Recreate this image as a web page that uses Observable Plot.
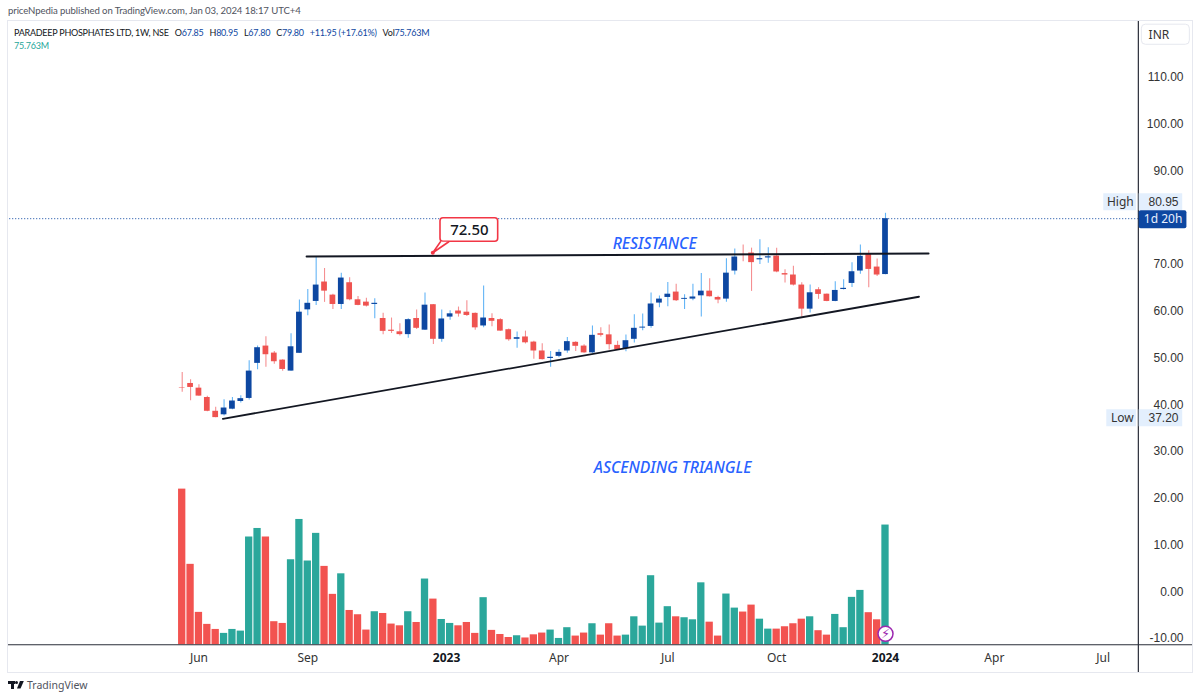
<!DOCTYPE html>
<html>
<head>
<meta charset="utf-8">
<script src="https://cdn.jsdelivr.net/npm/d3@7"></script>
<script src="https://cdn.jsdelivr.net/npm/@observablehq/plot@0.6"></script>
<style>
  html, body { margin: 0; padding: 0; background: #fff; width: 1200px; height: 699px; overflow: hidden; }
  body { font-family: Lato, sans-serif; color: #131722; position: relative; }
  #pub { height: 21px; line-height: 22px; padding-left: 8px; font-size: 9.6px; letter-spacing: -0.1px; color: #50535e; box-sizing: border-box; white-space: nowrap; }
  #wrap { position: relative; margin-left: 8px; width: 1184px; height: 651px; }
  #wrap svg { display: block; outline: 1px solid #e6e8ef; }
  #legend { position: absolute; left: 6px; top: 5px; font-size: 9px; letter-spacing: -0.25px; line-height: 13px; color: #131722; white-space: nowrap; }
  #legend b { font-weight: 400; color: #0d47a1; }
  #legend .gap { margin-left: 4px; }
  #legend .vol { color: #26a69a; }
  #foot { position: absolute; left: 8px; top: 678px; height: 14px; display: flex; align-items: center; font-size: 10.5px; color: #50535e; font-family: "Noto Sans", sans-serif; }
  #logo { position: relative; width: 16px; height: 9px; margin-right: 3px; }
  #logo i { position: absolute; background: #131722; display: block; }
</style>
</head>
<body>
<div id="pub">priceNpedia published on TradingView.com, Jan 03, 2024 18:17 UTC+4</div>
<div id="wrap">
  <div id="legend">
    <div>PARADEEP PHOSPHATES LTD, 1W, NSE <span class="gap">O<b>67.85</b></span> <span class="gap">H<b>80.95</b></span> <span class="gap">L<b>67.80</b></span> <span class="gap">C<b>79.80</b></span> <span class="gap"><b>+11.95 (+17.61%)</b></span> <span class="gap">Vol<b>75.763M</b></span></div>
    <div class="vol">75.763M</div>
  </div>
</div>
<div id="foot">
  <div id="logo">
    <i style="left:0;top:0;width:7px;height:3px"></i>
    <i style="left:3px;top:0;width:3px;height:8px"></i>
    <i style="left:7px;top:0;width:3px;height:3px;border-radius:50%"></i>
    <i style="left:9px;top:0;width:7px;height:8px;clip-path:polygon(45% 0,100% 0,50% 100%,0 100%)"></i>
  </div>
  <span>TradingView</span>
</div>
<script>
// ---- data ----
const startWeek = "2022-05-23";
const opens = [43.65,44.55,43.55,41.55,38.6,37.85,39.05,40.7,41.35,48.85,
  52.55,51.05,49.55,47.2,51,60.3,62.1,66.25,63.45,61.45,
  66.1,62.45,61.95,61.45,58.45,55.95,55.6,55,58.45,55.95,
  61.4,54,58.75,60.05,59.8,59.55,56.85,58.45,58.2,56.05,
  54,54.5,53.4,51.5,49.9,50.35,51.5,53.35,52.55,51.1,
  55.2,54.95,52.7,52,54,56.4,56.75,61.75,62.95,64.1,
  62.55,62.6,63.3,64.3,62.95,62.6,68.6,72.15,72.45,71,
  71.4,71.8,68.05,67.75,65.6,60.45,64.6,63.65,62.1,64.65,
  65.95,68.6,72.3,69.45,67.85];
const highs = [46.9,45.35,44.3,41.8,39.45,41.05,41.55,41.95,49.4,52.55,
  54.55,51.4,49.65,55.2,62.4,64.65,71.5,69.15,63.65,68.15,
  67.15,63.15,62.8,62.65,59.55,58.55,57.35,58.4,60.25,63.9,
  61.45,60.25,60.1,60.9,62.25,59.6,65.4,59.45,58.4,56.2,
  55.55,55.75,53.6,53.05,51.4,51.75,54.4,53.5,52.85,56.85,
  56.45,57.05,53.6,54.9,59.25,59.4,63.9,63.25,66.15,65.8,
  63.55,65.8,68.05,66.95,63.2,71.25,73.3,74.15,73.5,75.3,
  73.6,73.5,68.9,69.65,66.1,65.6,65.05,63.7,66.3,66.75,
  70.4,74.15,72.95,71.15,80.95];
const lows = [42.65,40.85,41.8,38.5,37.2,37.6,38.95,40.35,41,47.5,
  48,48.65,47.15,47.15,51,59.05,61.25,61.9,60.4,60.4,
  62.25,61.2,60.9,58.4,55,55.25,54.7,54.2,56.1,55.9,
  52.9,53.35,58.1,58.75,58.9,55.95,56.45,56.7,55.7,53.6,
  52.1,53,49.75,49.55,48,50.05,51,51.4,51,51,
  54.5,51.7,51.7,51.35,53.2,55.85,56.35,60.75,60.95,62.1,
  60.4,62.25,58.75,63.05,61.6,61.9,67.75,70.6,64.25,70,
  70.25,68.25,66.05,65.4,58.75,59.6,62.55,62.05,62.05,64.55,
  65.1,67.9,65.05,67.45,67.8];
const closes = [43.55,43.7,41.85,38.6,37.25,39.3,40.8,41.3,47.2,52.2,
  50.7,49.2,47.55,52.4,59.8,61.7,65.6,64.3,61.45,67.1,
  62.45,61.25,61.1,61.7,55.7,55.7,55,58.2,56.35,61.3,
  54,58.35,59.45,59.4,59.1,56.45,58.55,57.85,55.75,53.9,
  54.35,53.25,51.5,49.65,50.15,51.2,53.5,52.5,51.1,54.85,
  54.85,52.85,51.75,53.7,56.35,56.6,61.55,62.6,63.65,62.25,
  62.75,63.05,64.3,63.1,62.4,68.15,71.6,71.95,70.4,71.25,
  71.65,68.4,67.75,65.6,60.45,63.95,63.6,62.1,64.45,64.9,
  68.45,71.75,68.95,67.75,79.8];
const volumes = [98.5,50.9,20.5,12.9,9.7,7.2,9.7,8.65,68.2,73.6,
  68.2,14.6,13.5,53.8,79.3,53,70.5,49.6,31.9,44.9,
  21.7,19,9.3,20.9,19.8,13.1,12,20.9,14.1,41.6,
  28.9,16,13.5,12,14.1,7.2,29.8,9.1,6.5,4.6,
  5.7,4.3,6.3,7.4,9.3,4,10.8,5.5,7.4,13.3,
  6.1,13.3,5.5,6.1,17.7,11.8,43.7,13.7,24.1,17.7,
  17.1,15.8,39.2,14.3,5.5,32.1,23.2,20.7,25.1,16.2,
  9.9,9.9,11.4,13.3,16.2,17.7,8.9,6.1,19.2,10.8,
  30,34.4,20.3,15.8,75.763];
const priceTicks = [110,100,90,70,60,50,40,30,20,10,0,-10];
const monthTicks = [["2022-06-06","Jun"],["2022-09-05","Sep"],["2023-04-03","Apr"],["2023-07-03","Jul"],["2023-10-02","Oct"],["2024-04-01","Apr"],["2024-07-01","Jul"]];
const yearTicks = [["2022-12-30","2023"],["2024-01-01","2024"]];
const resistance = [["2022-09-04",71.72],["2024-02-06",72.36]];
const support = [["2022-06-26",37.0],["2024-01-29",63.1]];
const lastClose = 79.8, high = 80.95, low = 37.2, calloutValue = "72.50";

// ---- helpers ----
const UP_BODY = "#0d47a1", UP_WICK = "#64b5f6", DOWN_BODY = "#ef5350", DOWN_WICK = "#f58f91";
const VOL_UP = "#2ba79b", VOL_DOWN = "#f25350", AXIS = "#2a2e39", TEXT = "#131722";
const week = n => new Date(Date.parse(startWeek + "T00:00Z") + n * 7 * 864e5);
const offset = (d, days) => new Date(+d + days * 864e5);
const iso = s => new Date(s + "T00:00Z");
const bars = opens.map((o, i) => ({date: week(i), open: o, high: highs[i], low: lows[i], close: closes[i], volume: volumes[i], up: closes[i] >= o}));
// volume is drawn on its own overlay scale, anchored at the time-axis line
const volBase = -11.34, volK = 0.338;
const FONT = '"Noto Sans", sans-serif', NUM = '"Liberation Sans", sans-serif';
const paneEnd = week(114.2), paneStart = week(-20.6);

const chart = Plot.plot({
  width: 1184, height: 651,
  marginTop: 0, marginRight: 0, marginBottom: 0, marginLeft: 0,
  style: {background: "#fff", fontFamily: FONT, overflow: "visible"},
  x: {type: "utc", domain: [week(0), week(84)], range: [173.7, 877], axis: null},
  y: {type: "linear", domain: [-10, 110], range: [617, 56], axis: null},
  marks: [
    // volume
    Plot.rect(bars, {x1: d => offset(d.date, -3.05), x2: d => offset(d.date, 3.05), y1: volBase, y2: d => volBase + d.volume * volK, fill: d => d.up ? VOL_UP : VOL_DOWN}),
    // last price line
    Plot.ruleY([lastClose], {x1: paneStart, x2: paneEnd, stroke: UP_BODY, strokeWidth: 1, strokeDasharray: "1 2"}),
    // candles
    Plot.ruleX(bars, {x: "date", y1: "low", y2: "high", stroke: d => d.up ? UP_WICK : DOWN_WICK, strokeWidth: 1.1}),
    Plot.rect(bars, {x1: d => offset(d.date, -2.4), x2: d => offset(d.date, 2.4), y1: "open", y2: "close", fill: d => d.up ? UP_BODY : DOWN_BODY}),
    // trend lines
    Plot.line(resistance, {x: d => iso(d[0]), y: d => d[1], stroke: TEXT, strokeWidth: 2}),
    Plot.line(support, {x: d => iso(d[0]), y: d => d[1], stroke: TEXT, strokeWidth: 1.8}),
    // callout
    Plot.rect([0], {x1: week(30.85), x2: week(37.74), y1: 74.87, y2: 79.89, fill: "#fff", stroke: "#f23645", strokeWidth: 1.6, rx: 3}),
    Plot.line([[30.85, 74.87], [29.93, 72.51], [31.84, 74.87]], {x: d => week(d[0]), y: d => d[1], fill: "#fff", stroke: "#f23645", strokeWidth: 1.6, curve: "linear"}),
    Plot.dot([0], {x: week(29.93), y: 72.51, r: 2, fill: "#f23645"}),
    Plot.text([calloutValue], {x: week(34.3), y: 77.35, text: d => d, fontSize: 15, fontWeight: 500, fill: TEXT}),
    // annotations
    Plot.text(["RESISTANCE"], {x: iso("2023-06-22"), y: 74.4, text: d => d, fontSize: 15.7, fontWeight: 500, fontStyle: "italic", fill: "#2962ff"}),
    Plot.text(["ASCENDING TRIANGLE"], {x: iso("2023-07-07"), y: 26.45, text: d => d, fontSize: 15.7, fontWeight: 500, fontStyle: "italic", fill: "#2962ff"}),
    // bolt marker
    Plot.dot([0], {x: week(84), y: -9, r: 7.5, fill: "#fff", stroke: "#9c27b0", strokeWidth: 1.5}),
    Plot.text(["\u26A1"], {x: week(84), y: -9, text: d => d, fontSize: 13, fill: "#9c27b0", fontFamily: "DejaVu Sans"}),
    // axes lines
    Plot.ruleY([volBase], {stroke: AXIS, strokeWidth: 1.2}),
    Plot.ruleX([paneEnd], {stroke: AXIS, strokeWidth: 1.2}),
    // time labels
    Plot.text(monthTicks, {x: d => iso(d[0]), y: -14.3, text: d => d[1], fontSize: 12, fill: "#333"}),
    Plot.text(yearTicks, {x: d => iso(d[0]), y: -14.3, text: d => d[1], fontSize: 12, fontWeight: 700, fill: TEXT}),
    // price labels
    Plot.text(priceTicks, {y: d => d, text: d => d3.format(".2f")(d).replace("\u2212", "-"), frameAnchor: "right", dx: -9, textAnchor: "end", fontSize: 12, fontFamily: NUM, fill: "#333"}),
    // INR box
    Plot.rect([0], {x1: week(114.62), x2: week(120.35), y1: 117.0, y2: 121.3, fill: "#fff", stroke: "#e6e8ef", rx: 4}),
    Plot.text(["INR"], {x: week(115.42), y: 119.15, text: d => d, textAnchor: "start", fontSize: 12, fontFamily: FONT, fill: "#333"}),
    // High tag
    Plot.rect([0], {x1: week(110.07), x2: week(113.97), y1: 81.5, y2: 85.13, fill: "#e3effd"}),
    Plot.rect([0], {x1: week(114.3), x2: week(119.5), y1: 81.5, y2: 85.13, fill: "#e3effd"}),
    Plot.text(["High"], {x: week(113.65), y: 83.3, text: d => d, textAnchor: "end", fontSize: 12, fill: "#333"}),
    Plot.text([high.toFixed(2)], {frameAnchor: "right", dx: -14, y: 83.3, text: d => d, textAnchor: "end", fontSize: 12, fontFamily: NUM, fill: "#333"}),
    // Countdown tag
    Plot.rect([0], {x1: week(114.3), x2: week(120), y1: 77.65, y2: 81.5, fill: UP_BODY, rx: 2}),
    Plot.text(["1d 20h"], {x: week(117.15), y: 79.6, text: d => d, fontSize: 12, fill: "#e8f0ff"}),
    // Low tag
    Plot.rect([0], {x1: week(110.43), x2: week(113.97), y1: 35.29, y2: 38.93, fill: "#e3effd"}),
    Plot.rect([0], {x1: week(114.3), x2: week(119.5), y1: 35.29, y2: 38.93, fill: "#e3effd"}),
    Plot.text(["Low"], {x: week(113.65), y: 37.1, text: d => d, textAnchor: "end", fontSize: 12, fill: "#333"}),
    Plot.text([low.toFixed(2)], {frameAnchor: "right", dx: -14, y: 37.1, text: d => d, textAnchor: "end", fontSize: 12, fontFamily: NUM, fill: "#333"})
  ]
});
const wrap = document.getElementById("wrap");
wrap.insertBefore(chart, wrap.firstChild);
</script>
</body>
</html>
